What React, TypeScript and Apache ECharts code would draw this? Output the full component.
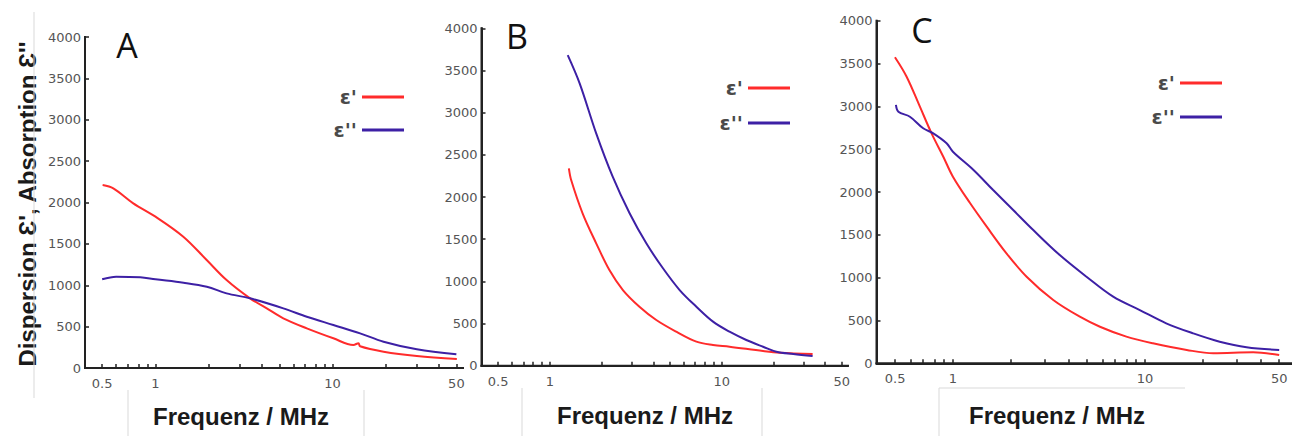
import React, { useEffect, useRef } from "react";
import * as echarts from "echarts";

// ---- axis ticks / labels ----
const xTickValues = [0.5, 0.6, 0.7, 0.8, 0.9, 1, 2, 3, 4, 5, 6, 7, 8, 9, 10, 20, 30, 40, 50];
const xLabelValues = [0.5, 1, 10, 50];
const yTickValues = [0, 500, 1000, 1500, 2000, 2500, 3000, 3500, 4000];
const panelLetters = ["A", "B", "C"];
const seriesNames = ["ε'", "ε''"];
const xTitle = "Frequenz / MHz";
const yTitle = "Dispersion Ɛ', Absorption Ɛ''";

// ---- Panel A ----
const freqA_real = [0.503, 0.578, 0.749, 1.0, 1.436, 1.946, 2.52, 3.42, 4.25, 5.27, 7.15, 10.1, 13.1, 14.0, 14.3, 19.4, 29.9, 50.3];
const epsA_real = [2211, 2171, 1990, 1829, 1587, 1305, 1063, 842, 721, 600, 479, 359, 278, 300, 262, 197, 145, 109];
const freqA_imag = [0.5, 0.6, 0.82, 1.0, 1.44, 1.95, 2.52, 3.42, 5.27, 7.15, 10.1, 14.3, 19.4, 29.9, 50];
const epsA_imag = [1072, 1104, 1096, 1072, 1031, 982, 902, 842, 721, 620, 520, 419, 318, 226, 165];

// ---- Panel B ----
const freqB_real = [1.29, 1.33, 1.55, 1.86, 2.22, 2.66, 3.32, 4.16, 5.44, 7.12, 8.9, 11.1, 17.4, 21.8, 33.8];
const epsB_real = [2340, 2201, 1807, 1451, 1134, 897, 699, 542, 403, 285, 245, 225, 174, 154, 139];
const freqB_imag = [1.27, 1.49, 1.86, 2.32, 2.91, 3.64, 4.55, 5.69, 7.12, 8.9, 11.1, 13.9, 17.4, 20.8, 26.1, 33.8];
const epsB_imag = [3683, 3348, 2755, 2241, 1807, 1451, 1155, 897, 699, 522, 403, 305, 225, 166, 139, 115];

// ---- Panel C ----
const freqC_real = [0.499, 0.574, 0.673, 0.774, 0.891, 1.0, 1.23, 1.5, 1.9, 2.42, 3.33, 4.58, 5.83, 8.0, 11.0, 16.5, 22.7, 36.6, 50];
const epsC_real = [3573, 3346, 2996, 2685, 2412, 2179, 1868, 1595, 1284, 1011, 739, 544, 427, 311, 233, 156, 117, 128, 97];
const freqC_imag = [0.505, 0.52, 0.597, 0.7, 0.79, 0.927, 1.0, 1.28, 1.62, 2.06, 2.62, 3.6, 4.96, 6.83, 9.4, 12.9, 17.8, 24.5, 33.8, 50];
const epsC_imag = [3016, 2937, 2879, 2744, 2685, 2569, 2470, 2257, 2023, 1790, 1556, 1264, 1011, 778, 622, 467, 350, 252, 187, 155];

const RED = "#ff2b2b";
const BLUE = "#3d20a5";
const AXIS = "#222222";
const X_MIN = 0.4;
const Y_MIN = 0;
const Y_MAX = 4000;

const zip = (xs: number[], ys: number[]) => xs.map((x, i) => [x, ys[i]]);

const panels = [
  { grid: { left: 85, top: 37, width: 378, height: 331 }, xMax: 54.5, real: zip(freqA_real, epsA_real), imag: zip(freqA_imag, epsA_imag),
    legend: { right: 888, top: 87, itemGap: 13 }, letter: { x: 127, y: 45 }, title: { x: 241, y: 416 } },
  { grid: { left: 481.5, top: 28.3, width: 366.5, height: 337.4 }, xMax: 54.3, real: zip(freqB_real, epsB_real), imag: zip(freqB_imag, epsB_imag),
    legend: { right: 502, top: 78, itemGap: 15 }, letter: { x: 517, y: 36 }, title: { x: 645, y: 415 } },
  { grid: { left: 876.5, top: 20.7, width: 415.5, height: 342.6 }, xMax: 58.3, real: zip(freqC_real, epsC_real), imag: zip(freqC_imag, epsC_imag),
    legend: { right: 70, top: 73, itemGap: 14 }, letter: { x: 922, y: 30 }, title: { x: 1057, y: 415 } },
];

const tickFont = { fontFamily: "DejaVu Sans", fontSize: 13, color: "#555" };

function baseGraphic(i: number): any[] {
  const p = panels[i];
  const graphic: any[] = [
    { type: "text", x: p.letter.x, y: p.letter.y, silent: true,
      style: { text: panelLetters[i], font: "34px 'Open Sans'", fill: "#111", textAlign: "center", textVerticalAlign: "middle" } },
    { type: "text", x: p.title.x, y: p.title.y, silent: true,
      style: { text: xTitle, font: "bold 24px 'Liberation Sans'", fill: "#1a1a1a", textAlign: "center", textVerticalAlign: "middle" } },
  ];
  if (i === 0) {
    graphic.push({ type: "text", x: 27, y: 204, rotation: Math.PI / 2, silent: true,
      style: { text: yTitle, font: "bold 24px 'Liberation Sans'", fill: "#1a1a1a", textAlign: "center", textVerticalAlign: "middle" } });
    const frame = "#d9d9d9";
    const lines = [
      [34, 12, 34, 398], [128, 390, 128, 436], [364, 390, 364, 436],
      [522, 388, 522, 436], [762, 388, 762, 436],
      [939, 388, 1185, 388], [939, 388, 939, 436],
    ];
    lines.forEach(([x1, y1, x2, y2]) => {
      graphic.push({ type: "line", silent: true, shape: { x1, y1, x2, y2 }, style: { stroke: frame, lineWidth: 1 } });
    });
  }
  return graphic;
}

function buildOption(i: number): any {
  const p = panels[i];
  return {
    animation: false,
    grid: [{ ...p.grid }],
    xAxis: [{
      type: "log", gridIndex: 0, min: X_MIN, max: p.xMax,
      axisLine: { show: true, lineStyle: { color: AXIS, width: 2 } },
      axisTick: { show: true, inside: true, length: 4, customValues: xTickValues, lineStyle: { color: AXIS, width: 1.5 } },
      axisLabel: { customValues: xLabelValues, margin: 9, ...tickFont },
      splitLine: { show: false },
    }],
    yAxis: [{
      type: "value", gridIndex: 0, min: Y_MIN, max: Y_MAX, interval: 500,
      axisLine: { show: true, lineStyle: { color: AXIS, width: 2 } },
      axisTick: { show: true, inside: true, length: 4, customValues: yTickValues, lineStyle: { color: AXIS, width: 1.5 } },
      axisLabel: { margin: 4, ...tickFont, formatter: (v: number) => String(v) },
      splitLine: { show: false },
    }],
    series: [
      { name: seriesNames[0], type: "line", data: p.real, showSymbol: false, smooth: 0.35, lineStyle: { color: RED, width: 2 }, color: RED },
      { name: seriesNames[1], type: "line", data: p.imag, showSymbol: false, smooth: 0.35, lineStyle: { color: BLUE, width: 2 }, color: BLUE },
    ],
    legend: [{
      orient: "vertical", align: "right", right: p.legend.right, top: p.legend.top, itemGap: p.legend.itemGap,
      itemWidth: 42, itemHeight: 3, padding: 0, icon: "rect", selectedMode: false, data: seriesNames,
      textStyle: { fontFamily: "DejaVu Sans", fontSize: 20, fontWeight: "bold", color: "#4a4a4a", lineHeight: 20 },
    }],
    graphic: baseGraphic(i),
  };
}

function Panel({ idx }: { idx: number }) {
  const ref = useRef<HTMLDivElement>(null);
  useEffect(() => {
    if (!ref.current) return;
    const chart = echarts.init(ref.current, null, { renderer: "svg" });
    chart.setOption(buildOption(idx));
    // axis frame lines, positioned through the grid's own scales
    const p = panels[idx];
    const origin = chart.convertToPixel({ gridIndex: 0 } as any, [X_MIN, Y_MIN]) as number[];
    const xEnd = chart.convertToPixel({ gridIndex: 0 } as any, [p.xMax, Y_MIN]) as number[];
    const yEnd = chart.convertToPixel({ gridIndex: 0 } as any, [X_MIN, Y_MAX]) as number[];
    if (origin && xEnd && yEnd) {
      const graphic = baseGraphic(idx);
      graphic.push({ type: "line", silent: true, z: 10,
        shape: { x1: origin[0], y1: origin[1], x2: xEnd[0], y2: xEnd[1] }, style: { stroke: AXIS, lineWidth: 2, lineCap: "square" } });
      graphic.push({ type: "line", silent: true, z: 10,
        shape: { x1: origin[0], y1: origin[1], x2: yEnd[0], y2: yEnd[1] }, style: { stroke: AXIS, lineWidth: 2, lineCap: "square" } });
      chart.setOption({ graphic });
    }
    return () => chart.dispose();
  }, [idx]);
  return <div ref={ref} style={{ position: "absolute", left: 0, top: 0, width: 1292, height: 436 }} />;
}

export default function App() {
  return (
    <div style={{ position: "absolute", left: 0, top: 0, width: 1292, height: 436, background: "#ffffff" }}>
      {panels.map((_, i) => <Panel key={i} idx={i} />)}
    </div>
  );
}
